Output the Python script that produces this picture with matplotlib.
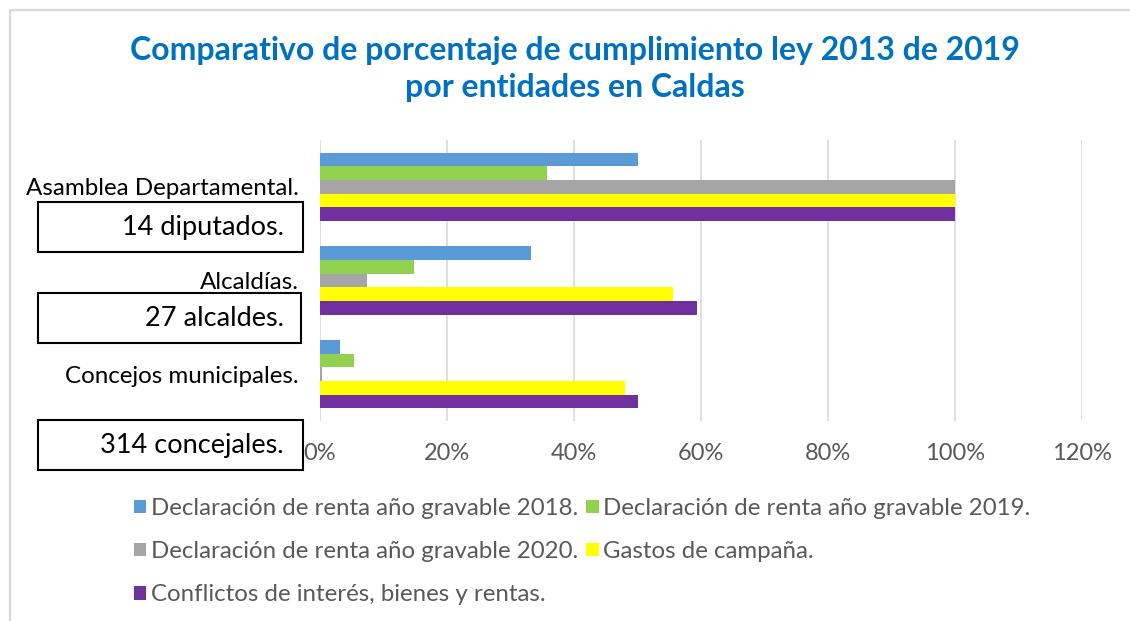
import numpy as np
import matplotlib.pyplot as plt
from matplotlib.patches import Rectangle
from matplotlib.lines import Line2D
from matplotlib.ticker import PercentFormatter

plt.rcParams["font.family"] = ["Lato", "DejaVu Sans"]

# data
categories = ["Asamblea Departamental.", "Alcaldías.", "Concejos municipales."]
box_labels = ["14 diputados.", "27 alcaldes.", "314 concejales."]
series_names = [
    "Declaración de renta año gravable 2018.",
    "Declaración de renta año gravable 2019.",
    "Declaración de renta año gravable 2020.",
    "Gastos de campaña.",
    "Conflictos de interés, bienes y rentas.",
]
renta_2018 = [0.50, 0.333, 0.032]
renta_2019 = [0.357, 0.148, 0.054]
renta_2020 = [1.00, 0.074, 0.003]
gastos = [1.00, 0.556, 0.481]
conflictos = [1.00, 0.593, 0.50]
colors = ["#5B9BD5", "#92D050", "#A5A5A5", "#FFFF00", "#7030A0"]

W, H = 1130, 621
fig = plt.figure(figsize=(W / 100, H / 100), dpi=100)

# chart frame (partially cropped in the original)
fig.add_artist(Line2D([9.5 / W, 9.5 / W, 1.0], [0.0, 1 - 10 / H, 1 - 10 / H],
                      transform=fig.transFigure, color="#D9D9D9", lw=1.6))

ax = fig.add_axes([320 / W, 1 - 421 / H, (1082 - 320) / W, (421 - 140) / H])

y = np.arange(len(categories))
bh = 0.146
all_series = [renta_2018, renta_2019, renta_2020, gastos, conflictos]
bars = []
for i, (vals, c, name) in enumerate(zip(all_series, colors, series_names)):
    b = ax.barh(y + (i - 2) * bh, vals, height=bh, color=c, label=name, zorder=3)
    bars.append(b)

ax.set_xlim(0, 1.2)
ax.set_ylim(2.5, -0.5)
ax.set_xticks(np.arange(0, 1.21, 0.2))
ax.xaxis.set_major_formatter(PercentFormatter(1.0, decimals=0))
ax.set_yticks(y)
ax.set_yticklabels(categories)
ax.grid(axis="x", color="#D9D9D9", lw=1.2, zorder=0)
for s in ax.spines.values():
    s.set_visible(False)
ax.tick_params(axis="x", length=0, pad=15.5, labelsize=17, labelcolor="#595959")
ax.tick_params(axis="y", length=0, pad=15.5, labelsize=17.4, labelcolor="black")

fig.text(0.509, 1 - 69 / H, "Comparativo de porcentaje de cumplimiento ley 2013 de 2019\npor entidades en Caldas",
         ha="center", va="center", fontsize=23, fontweight="bold", color="#0070C0", linespacing=1.3)

# boxes with the number of members
box_rects = [(38, 202, 303, 252), (38, 293, 301, 343), (38, 420, 303, 470)]
for (x0, y0, x1, y1), txt in zip(box_rects, box_labels):
    fig.add_artist(Rectangle((x0 / W, 1 - y1 / H), (x1 - x0) / W, (y1 - y0) / H,
                             transform=fig.transFigure, fill=True, facecolor="white",
                             edgecolor="black", lw=1.5, zorder=5))
    fig.text(284 / W, 1 - (y0 + y1) / 2 / H, txt, ha="right", va="center",
             fontsize=19.5, color="black", zorder=6)

order = [0, 2, 4, 1, 3]
leg = fig.legend([bars[i] for i in order], [series_names[i] for i in order],
                 ncol=2, loc="upper left", bbox_to_anchor=(122 / W, 1 - 486 / H),
                 frameon=False, fontsize=17.3, handlelength=0.5, handleheight=0.5,
                 handletextpad=0.2, columnspacing=0.35, labelspacing=0.92, borderpad=0)
for t in leg.get_texts():
    t.set_color("#595959")

fig.savefig("out.png", dpi=100)
